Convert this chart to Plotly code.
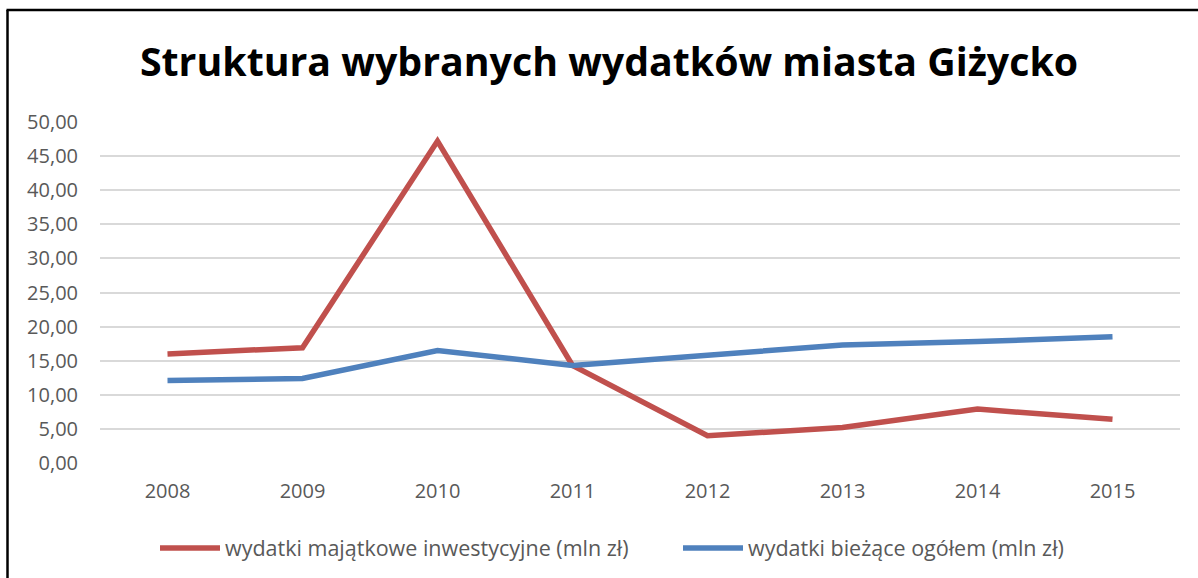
import plotly.graph_objects as go

years = ["2008", "2009", "2010", "2011", "2012", "2013", "2014", "2015"]
majatkowe = [16.0, 16.9, 47.2, 14.3, 4.0, 5.2, 7.9, 6.4]
biezace = [12.1, 12.4, 16.5, 14.3, 15.8, 17.3, 17.8, 18.5]
name_red = "wydatki majątkowe inwestycyjne (mln zł)"
name_blue = "wydatki bieżące ogółem (mln zł)"
title = "Struktura wybranych wydatków miasta Giżycko"

W, H = 1198, 578
L, R, T, B = 100, 18, 122, 115
pw, ph = W - L - R, H - T - B

def px_x(p):
    return (p - L) / pw

def px_y(p):
    return (H - B - p) / ph

fig = go.Figure()
fig.add_trace(go.Scatter(x=years, y=majatkowe, mode="lines", name=name_red,
                         line=dict(color="#C0504D", width=5.5), legend="legend"))
fig.add_trace(go.Scatter(x=years, y=biezace, mode="lines", name=name_blue,
                         line=dict(color="#4F81BD", width=5.5), legend="legend2"))

font_fam = "Open Sans, Calibri, sans-serif"
leg_common = dict(orientation="h", yanchor="middle", y=px_y(548), xanchor="left",
                  itemwidth=60, font=dict(size=21.5, color="#595959"),
                  bgcolor="rgba(0,0,0,0)")
fig.update_layout(
    width=W, height=H,
    margin=dict(l=L, r=R, t=T, b=B, autoexpand=False),
    paper_bgcolor="white", plot_bgcolor="white",
    separators=", ",
    font=dict(family=font_fam, color="#595959", size=20),
    title=dict(text="<b>" + title + "</b>", x=609 / W, xanchor="center",
               y=1 - 62 / H, yanchor="middle", yref="container",
               font=dict(family=font_fam, size=39.3, color="black")),
    xaxis=dict(type="category", range=[-0.5, 7.5], showgrid=False, showline=False,
               zeroline=False, ticks="", ticklabelstandoff=14,
               tickfont=dict(size=20, color="#595959")),
    yaxis=dict(range=[0, 50], dtick=5, tickformat=".2f", showgrid=True,
               gridcolor="#D9D9D9", gridwidth=1.5, zeroline=False, showline=False,
               ticks="", ticklabelstandoff=21,
               tickfont=dict(size=20, color="#595959")),
    showlegend=True,
    legend=dict(x=px_x(155), **leg_common),
    legend2=dict(x=px_x(678), **leg_common),
    shapes=[
        dict(type="line", xref="paper", yref="paper", x0=px_x(7.5), x1=px_x(7.5),
             y0=px_y(10), y1=px_y(580), line=dict(color="black", width=2.5)),
        dict(type="line", xref="paper", yref="paper", x0=px_x(6.5), x1=px_x(1200),
             y0=px_y(10), y1=px_y(10), line=dict(color="black", width=2.5)),
    ],
)

fig.write_html("out.html", config={"displayModeBar": False},
               post_script="document.body.style.margin='0';document.body.style.overflow='hidden';")
